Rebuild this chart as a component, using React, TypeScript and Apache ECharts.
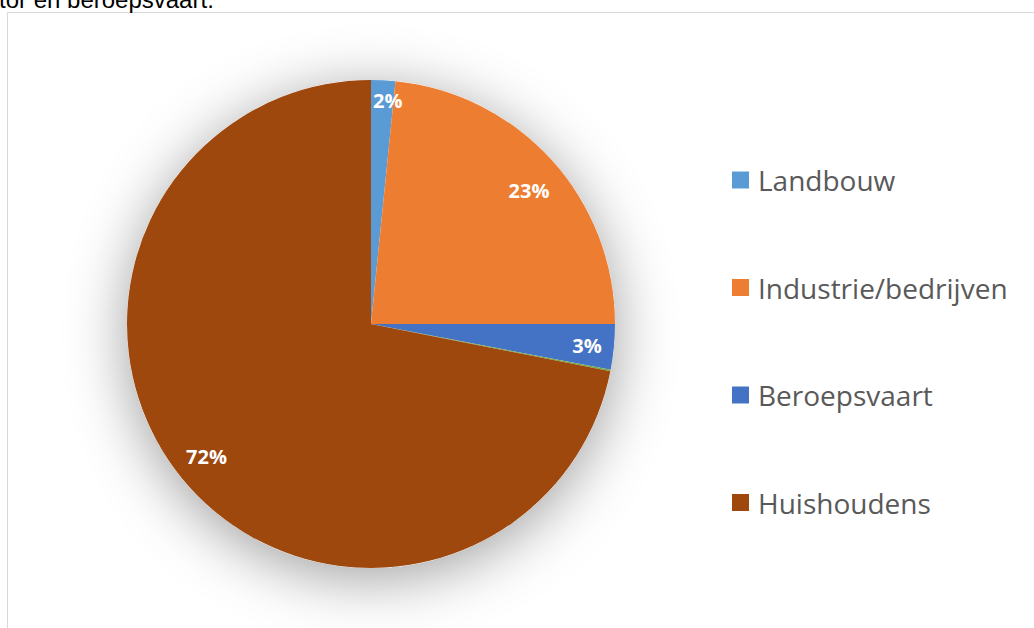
import React, { useEffect, useRef } from "react";
import * as echarts from "echarts";

const categories = ["Landbouw", "Industrie/bedrijven", "Beroepsvaart", "Overig", "Huishoudens"];
const shares = [1.6, 23.4, 3.0, 0.1, 71.9];
const colors = ["#5B9BD5", "#ED7D31", "#4472C4", "#70AD47", "#9E480E"];
const legendItems = ["Landbouw", "Industrie/bedrijven", "Beroepsvaart", "Huishoudens"];
const hiddenLabels = ["Overig"];
const labelNudges = [[6, -11], [0, 9], [4, 1], [0, 0], [0, -3]];
const titleText = "tor en beroepsvaart.";

export default function App() {
  const ref = useRef<HTMLDivElement>(null);
  useEffect(() => {
    if (!ref.current) return;
    const chart = echarts.init(ref.current, null, { renderer: "svg" });
    const data = categories.map((name, i) => ({
      name,
      value: shares[i],
      itemStyle: { color: colors[i] },
    }));
    const labelData = categories.map((name, i) => ({
      name,
      value: shares[i],
      label: { show: !hiddenLabels.includes(name), offset: labelNudges[i] },
    }));
    chart.setOption({
      animation: false,
      backgroundColor: "#ffffff",
      graphic: [
        {
          type: "rect",
          shape: { x: 7.5, y: 12.5, width: 1100, height: 700 },
          style: { fill: "none", stroke: "#d9d9d9", lineWidth: 1 },
          z: -10,
          silent: true,
        },
        {
          type: "text",
          x: -1,
          y: -1,
          style: {
            text: titleText,
            fill: "#000000",
            font: "24px 'Liberation Sans', Arial, sans-serif",
            verticalAlign: "middle",
            align: "left",
          },
          silent: true,
        },
      ],
      legend: {
        data: legendItems,
        orient: "vertical",
        left: 732,
        top: 165,
        padding: 0,
        icon: "rect",
        itemWidth: 17,
        itemHeight: 17,
        itemGap: 77.5,
        selectedMode: false,
        textStyle: {
          fontFamily: "'Open Sans', sans-serif",
          fontSize: 28,
          color: "#595959",
          lineHeight: 30,
          padding: [0, 0, 0, 4],
        },
      },
      series: [
        {
          type: "pie",
          name: "shadow",
          silent: true,
          center: [371, 324],
          radius: [0, 244],
          z: 0,
          label: { show: false },
          labelLine: { show: false },
          itemStyle: {
            color: "#ffffff",
            shadowBlur: 60,
            shadowOffsetY: 10,
            shadowColor: "rgba(0,0,0,0.38)",
          },
          data: [{ name: "__shadow", value: 1 }],
          legendHoverLink: false,
        },
        {
          type: "pie",
          name: "Aandeel",
          center: [371, 324],
          radius: [0, 244],
          startAngle: 90,
          clockwise: true,
          z: 2,
          label: { show: false },
          labelLine: { show: false },
          itemStyle: { borderWidth: 0 },
          data,
        },
        {
          type: "pie",
          name: "labels",
          silent: true,
          center: [371, 324],
          radius: [176, 244],
          startAngle: 90,
          clockwise: true,
          z: 3,
          itemStyle: { color: "rgba(0,0,0,0)" },
          label: {
            show: true,
            position: "inside",
            formatter: (p: any) => Math.round(p.value) + "%",
            color: "#ffffff",
            fontFamily: "'Open Sans', sans-serif",
            fontWeight: "bold",
            fontSize: 20,
          },
          labelLine: { show: false },
          emphasis: { disabled: true },
          data: labelData,
        },
      ],
    });
    return () => chart.dispose();
  }, []);
  return (
    <div
      ref={ref}
      style={{ position: "fixed", left: 0, top: 0, width: 1034, height: 628 }}
    />
  );
}
